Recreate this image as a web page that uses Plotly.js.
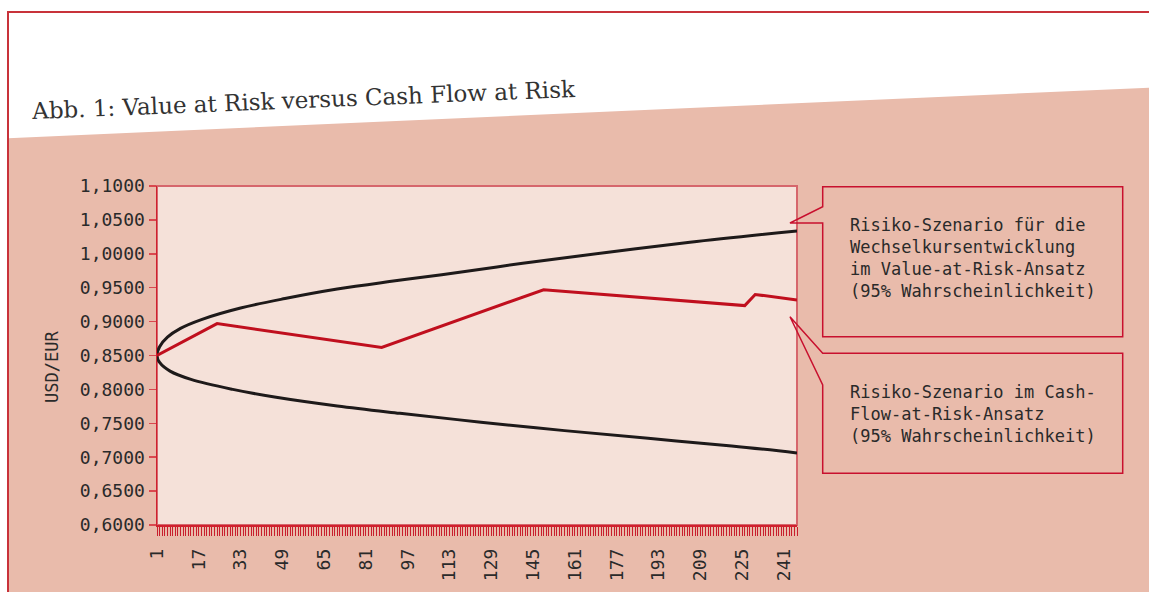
<!DOCTYPE html>
<html><head><meta charset="utf-8">
<script src="https://cdn.plot.ly/plotly-3.0.1.min.js"></script>
<style>html,body{margin:0;padding:0;background:#fff;}#chart{width:1149px;height:592px;}</style>
</head><body><div id="chart"></div>
<script>
// ---- data ----
const upperPeriods = [1, 2, 5, 10, 18, 33, 50, 70, 90, 110, 141, 173, 205, 246];
const upperValues  = [0.85, 0.863, 0.877, 0.890, 0.903, 0.920, 0.934, 0.948, 0.959, 0.969, 0.986, 1.002, 1.017, 1.0338];
const lowerPeriods = [1, 2, 6, 14, 30, 46, 70, 94, 125, 157, 189, 221, 246];
const lowerValues  = [0.85, 0.8397, 0.8269, 0.8147, 0.800, 0.7887, 0.7755, 0.7647, 0.7517, 0.7392, 0.7278, 0.7166, 0.7063];
const cfarPeriods  = [1, 24, 87, 149, 226, 230, 246];
const cfarValues   = [0.85, 0.897, 0.862, 0.947, 0.9236, 0.940, 0.932];

const titleText = 'Abb. 1: Value at Risk versus Cash Flow at Risk';
const yTitle = 'USD/EUR';
const note1 = 'Risiko-Szenario für die<br>Wechselkursentwicklung<br>im Value-at-Risk-Ansatz<br>(95% Wahrscheinlichkeit)';
const note2 = 'Risiko-Szenario im Cash-<br>Flow-at-Risk-Ansatz<br>(95% Wahrscheinlichkeit)';

// ---- layout helpers (pixel -> paper) ----
const L = 157, R = 797, T = 186, B = 525;
const px = x => (x - L) / (R - L);
const py = y => (B - y) / (B - T);
const P = (x, y) => px(x).toFixed(5) + ',' + py(y).toFixed(5);

// envelope drawn as one path: lower (reversed) then upper
const envX = lowerPeriods.slice().reverse().concat(upperPeriods.slice(1));
const envY = lowerValues.slice().reverse().concat(upperValues.slice(1));

const traces = [
  {x: envX, y: envY, type: 'scatter', mode: 'lines',
   line: {color: '#1e1a1a', width: 3, shape: 'spline', smoothing: 1}, hoverinfo: 'skip'},
  {x: cfarPeriods, y: cfarValues, type: 'scatter', mode: 'lines',
   line: {color: '#c00f1e', width: 3}, hoverinfo: 'skip'}
];

const red = '#c8102e';
const shapes = [
  {type: 'path', xref: 'paper', yref: 'paper', layer: 'below',
   path: 'M' + P(8, 138.2) + 'L' + P(1160, 87.2) + 'L' + P(1160, 610) + 'L' + P(8, 610) + 'Z',
   fillcolor: '#e9bbab', line: {width: 0}},
  {type: 'rect', xref: 'paper', yref: 'paper', layer: 'below', x0: 0, x1: 1, y0: 0, y1: 1,
   fillcolor: '#f5e1d9', line: {color: '#d6666c', width: 2}},
  {type: 'path', xref: 'paper', yref: 'paper', layer: 'below',
   path: 'M' + P(8, 610) + 'L' + P(8, 12) + 'L' + P(1160, 12),
   line: {color: '#c8323a', width: 2}},
  {type: 'path', xref: 'paper', yref: 'paper',
   path: 'M' + P(822.7, 206.7) + 'L' + P(822.7, 186.7) + 'L' + P(1122.7, 186.7) + 'L' + P(1122.7, 336.7) +
         'L' + P(822.7, 336.7) + 'L' + P(822.7, 223) + 'L' + P(790, 223) + 'Z',
   line: {color: red, width: 1.5}},
  {type: 'path', xref: 'paper', yref: 'paper',
   path: 'M' + P(822.7, 353.3) + 'L' + P(1122.7, 353.3) + 'L' + P(1122.7, 473.3) + 'L' + P(822.7, 473.3) +
         'L' + P(822.7, 385) + 'L' + P(790, 316.7) + 'Z',
   line: {color: red, width: 1.5}}
];

const mono = 'DejaVu Sans Mono, monospace';
const annotations = [
  {text: titleText, xref: 'paper', yref: 'paper', x: px(303), y: py(100), showarrow: false,
   xanchor: 'center', yanchor: 'middle', textangle: -2.35,
   font: {family: 'DejaVu Serif, serif', size: 23, color: '#333333'}},
  {text: yTitle, xref: 'paper', yref: 'paper', x: px(52), y: py(367), showarrow: false,
   xanchor: 'center', yanchor: 'middle', textangle: -90,
   font: {family: mono, size: 17, color: '#2a2a2a'}},
  {text: note1, xref: 'paper', yref: 'paper', x: px(848), y: py(258), showarrow: false,
   xanchor: 'left', yanchor: 'middle', align: 'left',
   font: {family: mono, size: 17, color: '#2a2a2a'}},
  {text: note2, xref: 'paper', yref: 'paper', x: px(848), y: py(414.3), showarrow: false,
   xanchor: 'left', yanchor: 'middle', align: 'left',
   font: {family: mono, size: 17, color: '#2a2a2a'}}
];

const layout = {
  width: 1149, height: 592,
  margin: {l: L, r: 1149 - R, t: T, b: 592 - B, pad: 0},
  paper_bgcolor: '#ffffff', plot_bgcolor: 'rgba(0,0,0,0)',
  separators: ',.', showlegend: false,
  font: {family: mono, size: 18, color: '#2a2a2a'},
  xaxis: {range: [1, 246], tick0: 1, dtick: 16, ticks: 'outside', ticklen: 9, tickwidth: 1,
    tickcolor: '#c81e2d', showline: true, linecolor: '#d0202e', linewidth: 1.5,
    showgrid: false, zeroline: false, tickangle: -90, ticklabelstandoff: 6,
    tickfont: {family: mono, size: 18, color: '#2a2a2a'},
    minor: {tick0: 1, dtick: 1, ticks: 'outside', ticklen: 9, tickwidth: 1, tickcolor: '#c81e2d', showgrid: false}},
  yaxis: {range: [0.6, 1.1], tick0: 0.6, dtick: 0.05, tickformat: '.4f', ticks: 'outside', ticklen: 7,
    tickwidth: 1.5, tickcolor: '#d9484f', showline: true, linecolor: '#d0202e', linewidth: 1.5,
    showgrid: false, zeroline: false, tickfont: {family: mono, size: 18, color: '#2a2a2a'}},
  shapes: shapes, annotations: annotations
};

Plotly.newPlot('chart', traces, layout, {staticPlot: true, displayModeBar: false});
</script></body></html>
